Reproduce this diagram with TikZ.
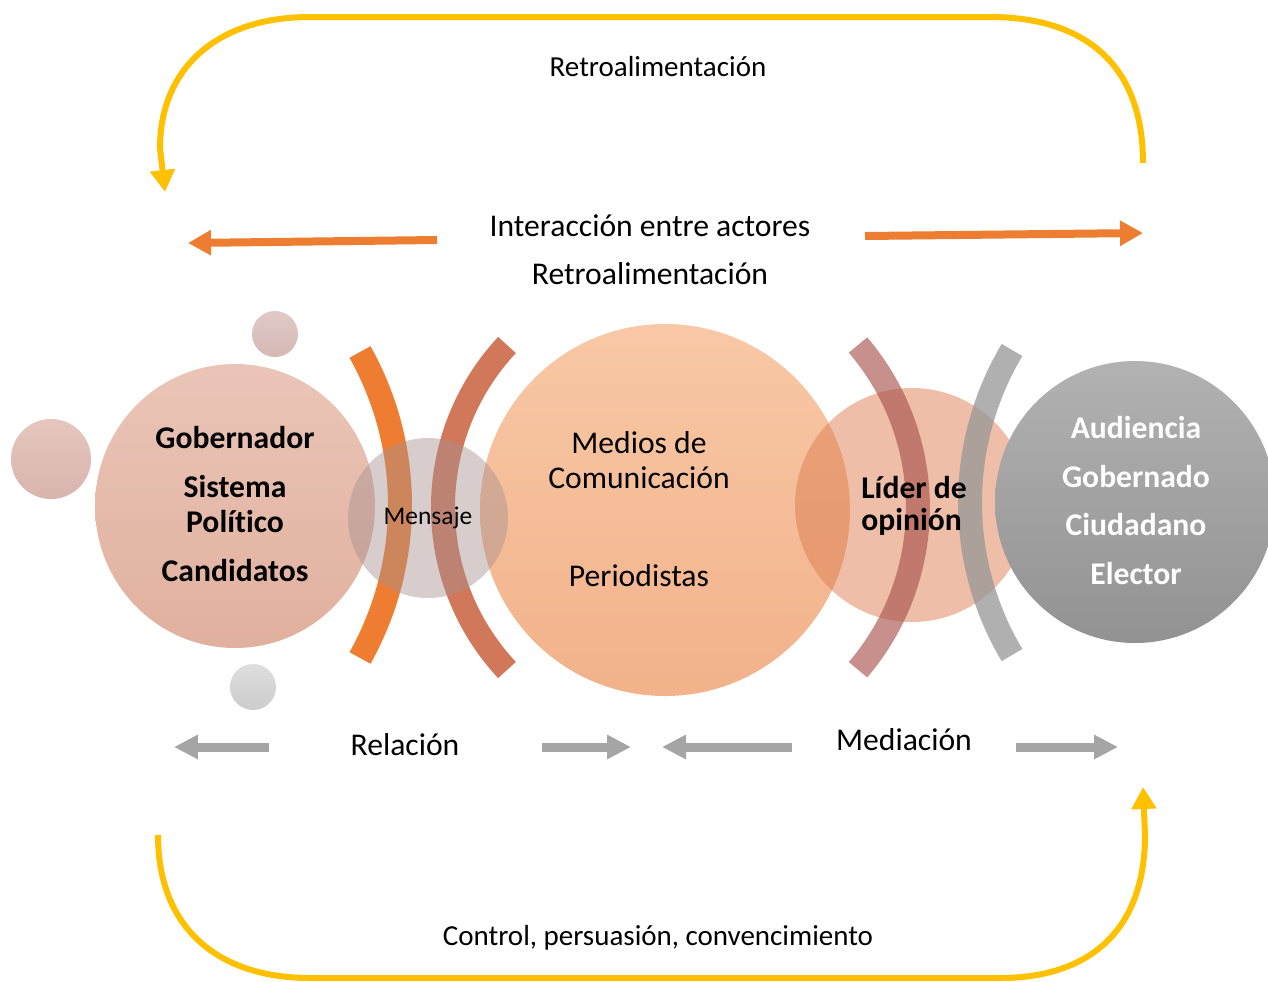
\documentclass[tikz,border=0pt]{standalone}
\usepackage{fontspec}
\setmainfont{Carlito}[Ligatures=NoCommon]
\usetikzlibrary{arrows.meta}
\definecolor{goldline}{RGB}{255,192,0}
\definecolor{orangeline}{RGB}{237,125,49}
\definecolor{grayline}{RGB}{165,165,165}
\definecolor{govtop}{RGB}{234,197,183}
\definecolor{govbot}{RGB}{225,176,158}
\definecolor{medtop}{RGB}{248,200,166}
\definecolor{medbot}{RGB}{242,178,138}
\definecolor{audtop}{RGB}{178,178,178}
\definecolor{audbot}{RGB}{146,146,146}
\definecolor{dotonetop}{RGB}{224,202,199}
\definecolor{dotonebot}{RGB}{213,184,180}
\definecolor{dottwotop}{RGB}{230,198,190}
\definecolor{dottwobot}{RGB}{216,180,174}
\definecolor{dotthreetop}{RGB}{222,222,222}
\definecolor{dotthreebot}{RGB}{204,204,204}
\definecolor{msgfill}{RGB}{167,144,144}
\definecolor{liderfill}{RGB}{221,125,81}
\definecolor{bandone}{RGB}{238,125,50}
\definecolor{bandtwo}{RGB}{210,120,90}
\definecolor{bandthree}{RGB}{170,85,78}
\definecolor{bandfour}{RGB}{150,150,150}
\begin{document}
\begin{tikzpicture}[x=0.02cm,y=-0.02cm,
  txt/.style={font=\fontsize{18}{22}\selectfont},
  boldtxt/.style={font=\fontsize{18}{22}\selectfont\bfseries},
  smalltxt/.style={font=\fontsize{16.5}{20}\selectfont},
  feedback/.style={draw=goldline,line width=0.12cm,-{Triangle[length=0.44cm,width=0.48cm]}},
  interarrow/.style={draw=orangeline,line width=0.16cm,-{Triangle[length=0.46cm,width=0.48cm]}},
  grayarrow/.style={draw=grayline,line width=0.18cm,-{Triangle[length=0.48cm,width=0.46cm]}},
  band/.style={line width=0.48cm}]
\useasboundingbox (0,0) rectangle (1268,981);

%feedback loops
\coordinate (fbtopstart) at (1143,163); \coordinate (fbtopend) at (165,192);
\draw[feedback] (fbtopstart) .. controls (1143,60) and (1080,17) .. (990,17) -- (310,17)
  .. controls (215,17) and (160,70) .. (160,148) -- (fbtopend);
\coordinate (fbbotstart) at (158,835); \coordinate (fbbotend) at (1143,787);
\draw[feedback] (fbbotstart) .. controls (158,930) and (220,978) .. (310,978) -- (1000,978)
  .. controls (1090,978) and (1145,930) .. (1145,835) -- (fbbotend);
\node[smalltxt] (retrotop) at (658,67) {Retroalimentación};
\node[smalltxt] (control) at (658,938) {Control, persuasión, convencimiento};

%interaction
\node[txt] (inter) at (650,226) {Interacción entre actores};
\node[txt] (retro) at (650,274) {Retroalimentación};
\coordinate (il1) at (437,240); \coordinate (il2) at (188,243);
\coordinate (ir1) at (865,236); \coordinate (ir2) at (1143,233);
\draw[interarrow] (il1) -- (il2);
\draw[interarrow] (ir1) -- (ir2);

%small dots
\shade[top color=dotonetop,bottom color=dotonebot] (275,334) circle (23);
\shade[top color=dottwotop,bottom color=dottwobot] (51,459) circle (40);
\shade[top color=dotthreetop,bottom color=dotthreebot] (253,687) circle (23);

%big circles
\shade[top color=govtop,bottom color=govbot] (235,506) ellipse (140 and 142);
\shade[top color=medtop,bottom color=medbot] (665,510) ellipse (185 and 186);

%bands left
\draw[band,draw=bandone] (360,352) arc[start angle=-29.3,end angle=29.3,radius=312.6];
\draw[band,draw=bandtwo] (507,345) arc[start angle=223,end angle=137,radius=238.3];

%message and leader
\fill[msgfill,fill opacity=0.45] (428,518) circle (80);
\fill[liderfill,fill opacity=0.5] (912,505) circle (117);

%bands right
\draw[band,draw=bandthree,draw opacity=0.65] (858,345) arc[start angle=-40.5,end angle=40.5,radius=250];
\draw[band,draw=bandfour,draw opacity=0.75] (1012,350) arc[start angle=210.8,end angle=149.2,radius=297.9];

\shade[top color=audtop,bottom color=audbot] (1135,502) ellipse (140 and 141);

%texts
\node[boldtxt] (gob) at (235,438) {Gobernador};
\node[boldtxt] (sis) at (235,487) {Sistema};
\node[boldtxt] (pol) at (235,522) {Político};
\node[boldtxt] (cand) at (235,571) {Candidatos};
\node[font=\fontsize{14.5}{17}\selectfont] (msg) at (428,518) {Mensaje};
\node[txt] (med) at (639,443) {Medios de};
\node[txt] (com) at (639,478) {Comunicación};
\node[txt] (per) at (639,576) {Periodistas};
\node[boldtxt,anchor=west,inner sep=0pt] (lid) at (861,488) {Líder de};
\node[boldtxt,anchor=west,inner sep=0pt] (opi) at (861,522) {opinión};
\node[boldtxt,text=white] (aud) at (1136,428) {Audiencia};
\node[boldtxt,text=white] (gbn) at (1136,477) {Gobernado};
\node[boldtxt,text=white] (ciu) at (1136,525) {Ciudadano};
\node[boldtxt,text=white] (ele) at (1136,574) {Elector};

%relation and mediation
\node[txt] (rel) at (405,745) {Relación};
\node[txt] (mdc) at (904,740) {Mediación};
\coordinate (ga1) at (269,747); \coordinate (ga2) at (174,747);
\coordinate (gb1) at (542,747); \coordinate (gb2) at (631,747);
\coordinate (gc1) at (792,747); \coordinate (gc2) at (662,747);
\coordinate (gd1) at (1016,747); \coordinate (gd2) at (1118,747);
\draw[grayarrow] (ga1) -- (ga2);
\draw[grayarrow] (gb1) -- (gb2);
\draw[grayarrow] (gc1) -- (gc2);
\draw[grayarrow] (gd1) -- (gd2);
\end{tikzpicture}
\end{document}
